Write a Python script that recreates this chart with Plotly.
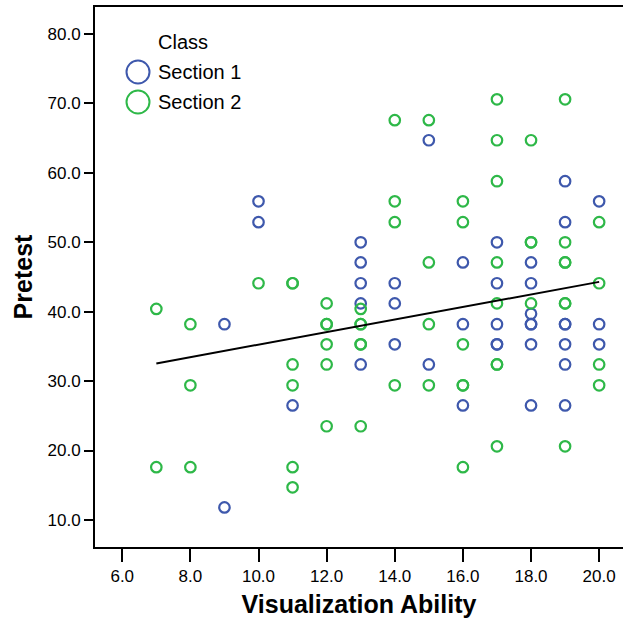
import plotly.graph_objects as go

# Section 1 (blue)
s1_x = [9, 9, 10, 10, 11,
        13, 13, 13, 13, 13,
        14, 14, 14,
        15, 15,
        16, 16, 16,
        17, 17, 17, 17, 17,
        18, 18, 18, 18, 18, 18, 18,
        19, 19, 19, 19, 19, 19, 19,
        20, 20, 20]
s1_y = [38.2, 11.8, 55.9, 52.9, 26.5,
        50.0, 47.1, 44.1, 41.2, 32.4,
        44.1, 41.2, 35.3,
        64.7, 32.4,
        47.1, 38.2, 26.5,
        50.0, 44.1, 38.2, 35.3, 35.3,
        47.1, 44.1, 39.7, 38.2, 38.2, 35.3, 26.5,
        58.8, 52.9, 38.2, 38.2, 35.3, 32.4, 26.5,
        55.9, 38.2, 35.3]

# Section 2 (green)
s2_x = [7, 7,
        8, 8, 8,
        10,
        11, 11, 11, 11, 11, 11,
        12, 12, 12, 12, 12, 12,
        13, 13, 13, 13, 13, 13,
        14, 14, 14, 14,
        15, 15, 15, 15,
        16, 16, 16, 16, 16, 16,
        17, 17, 17, 17, 17, 17, 17, 17,
        18, 18, 18, 18,
        19, 19, 19, 19, 19, 19, 19,
        20, 20, 20, 20]
s2_y = [40.4, 17.6,
        38.2, 29.4, 17.6,
        44.1,
        44.1, 44.1, 32.4, 29.4, 17.6, 14.7,
        41.2, 38.2, 38.2, 35.3, 32.4, 23.5,
        40.4, 38.2, 38.2, 35.3, 35.3, 23.5,
        67.6, 55.9, 52.9, 29.4,
        67.6, 47.1, 38.2, 29.4,
        55.9, 52.9, 35.3, 29.4, 29.4, 17.6,
        70.6, 64.7, 58.8, 47.1, 41.2, 32.4, 32.4, 20.6,
        64.7, 50.0, 50.0, 41.2,
        70.6, 50.0, 47.1, 47.1, 41.2, 41.2, 20.6,
        52.9, 44.1, 32.4, 29.4]

# Fit line
fit_x = [7, 20]
fit_y = [32.55, 44.3]

series_names = ["Section 1", "Section 2"]
legend_title = "Class"
x_title = "Visualization Ability"
y_title = "Pretest"

BLUE = "#3E58AC"
GREEN = "#2EB848"
FONT = "Liberation Sans, Arial, sans-serif"

fig = go.Figure()
fig.add_trace(go.Scatter(x=s1_x, y=s1_y, mode="markers", name=series_names[0],
                         marker=dict(symbol="circle-open", size=10.5, color=BLUE,
                                     line=dict(width=2.2, color=BLUE)),
                         showlegend=False))
fig.add_trace(go.Scatter(x=s2_x, y=s2_y, mode="markers", name=series_names[1],
                         marker=dict(symbol="circle-open", size=10.5, color=GREEN,
                                     line=dict(width=2.2, color=GREEN)),
                         showlegend=False))
fig.add_trace(go.Scatter(x=fit_x, y=fit_y, mode="lines",
                         line=dict(color="black", width=2), showlegend=False,
                         hoverinfo="skip"))

W, H = 623, 624
L, R, T, B = 95, 0, 7, 77
pw, ph = W - L - R, H - T - B


def px(xp):
    return (xp - L) / pw


def py(yp):
    return (H - B - yp) / ph


# manual legend
annotations = [
    dict(x=px(156), y=py(42), xref="paper", yref="paper", text=legend_title,
         showarrow=False, xanchor="left", yanchor="middle",
         font=dict(family=FONT, size=20, color="black")),
]
shapes = []
for i, (name, col) in enumerate(zip(series_names, [BLUE, GREEN])):
    yc = 72 + 30 * i
    annotations.append(dict(x=px(156), y=py(yc), xref="paper", yref="paper", text=name,
                            showarrow=False, xanchor="left", yanchor="middle",
                            font=dict(family=FONT, size=20, color="black")))
    shapes.append(dict(type="circle", xref="paper", yref="paper",
                       xsizemode="pixel", ysizemode="pixel",
                       xanchor=px(138), yanchor=py(yc),
                       x0=-11.5, x1=11.5, y0=-11.5, y1=11.5,
                       line=dict(color=col, width=2), fillcolor="rgba(0,0,0,0)"))

fig.update_layout(
    width=W, height=H,
    margin=dict(l=L, r=R, t=T, b=B, autoexpand=False),
    paper_bgcolor="white", plot_bgcolor="white",
    font=dict(family=FONT, size=17, color="black"),
    annotations=annotations, shapes=shapes,
    xaxis=dict(range=[5.2, 20.7], tick0=6, dtick=2, tickformat=".1f",
               showline=True, linecolor="black", linewidth=2, mirror=True,
               ticks="outside", ticklen=13, tickwidth=2, tickcolor="black",
               ticklabelstandoff=0,
               showgrid=False, zeroline=False, automargin=False,
               tickfont=dict(family=FONT, size=17, color="black"),
               title=dict(text="<b>" + x_title + "</b>", standoff=10,
                          font=dict(family=FONT, size=25, color="black"))),
    yaxis=dict(range=[6.1, 83.9], tick0=10, dtick=10, tickformat=".1f",
               showline=True, linecolor="black", linewidth=2,
               ticks="outside", ticklen=9, tickwidth=2, tickcolor="black",
               showgrid=False, zeroline=False, automargin=False,
               tickfont=dict(family=FONT, size=17, color="black"),
               title=dict(text="<b>" + y_title + "</b>", standoff=8,
                          font=dict(family=FONT, size=25, color="black"))),
)

fig.write_html("out.html", config={"displayModeBar": False},
               post_script="document.body.style.margin='0';document.body.style.overflow='hidden';")
